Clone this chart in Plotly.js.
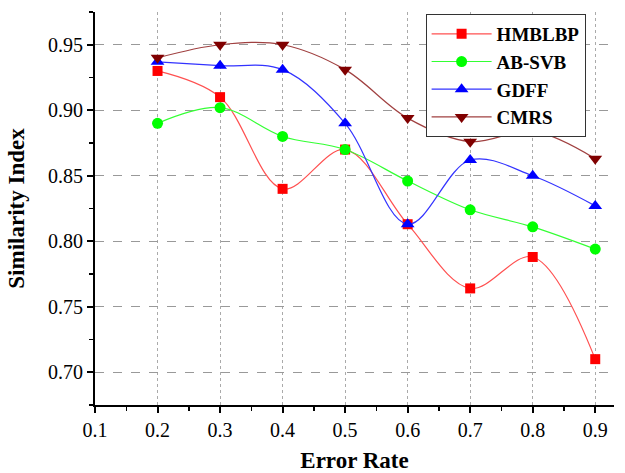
<!DOCTYPE html>
<html><head><meta charset="utf-8">
<script src="https://cdn.plot.ly/plotly-3.0.1.min.js"></script>
<style>body{margin:0;background:#fff}#c{width:625px;height:473px}</style>
</head><body><div id="c"></div>
<script>
const errorRate = [0.2, 0.3, 0.4, 0.5, 0.6, 0.7, 0.8, 0.9];
const hmblbp = [0.930, 0.910, 0.840, 0.870, 0.813, 0.764, 0.788, 0.710];
const abSvb  = [0.890, 0.902, 0.880, 0.870, 0.846, 0.824, 0.811, 0.794];
const gdff   = [0.937, 0.934, 0.931, 0.890, 0.813, 0.862, 0.850, 0.827];
const cmrs   = [0.940, 0.950, 0.950, 0.931, 0.894, 0.876, 0.884, 0.863];
const seriesNames = ['HMBLBP', 'AB-SVB', 'GDFF', 'CMRS'];
const xTickVals = [0.1, 0.2, 0.3, 0.4, 0.5, 0.6, 0.7, 0.8, 0.9];
const xTickText = ['0.1','0.2','0.3','0.4','0.5','0.6','0.7','0.8','0.9'];
const yTickVals = [0.70, 0.75, 0.80, 0.85, 0.90, 0.95];
const yTickText = ['0.70','0.75','0.80','0.85','0.90','0.95'];

const mk = (name, y, lineColor, mColor, symbol, size) => ({
  x: errorRate, y: y, name: name, type: 'scatter', mode: 'lines+markers',
  line: {color: lineColor, width: 1.2, shape: 'spline', smoothing: 1},
  marker: {color: mColor, symbol: symbol, size: size, line: {width: 0}}
});
const data = [
  mk(seriesNames[0], hmblbp, '#ff5050', '#ff0000', 'square', 10),
  mk(seriesNames[1], abSvb, '#33ff33', '#00ff00', 'circle', 11),
  mk(seriesNames[2], gdff, '#3333ff', '#0000ff', 'triangle-up', 12),
  mk(seriesNames[3], cmrs, '#a04040', '#800000', 'triangle-down', 12)
];
const font = 'Liberation Serif';
const tickFont = {family: font, size: 20, color: '#000'};
const layout = {
  width: 625, height: 473,
  margin: {l: 95, r: 11, t: 12, b: 68},
  paper_bgcolor: '#fff', plot_bgcolor: '#fff',
  font: {family: font, color: '#000', size: 20},
  showlegend: true,
  legend: {x: 0.637, y: 0.995, xanchor: 'left', yanchor: 'top',
    bordercolor: '#333', borderwidth: 1, bgcolor: '#fff',
    font: {family: font, size: 19, color: '#000', weight: 'bold'},
    itemwidth: 60, tracegroupgap: 0},
  xaxis: {
    range: [0.1, 0.93], tickvals: xTickVals, ticktext: xTickText,
    tickfont: tickFont,
    showline: true, linecolor: '#000', linewidth: 2,
    ticks: 'outside', ticklen: 6, tickwidth: 2, tickcolor: '#000',
    minor: {dtick: 0.05, tick0: 0.1, ticks: 'outside', ticklen: 4, tickwidth: 1.5, tickcolor: '#000', showgrid: false},
    showgrid: true, gridcolor: '#aaa', griddash: 'dot', gridwidth: 1,
    zeroline: false,
    title: {text: '<b>Error Rate</b>', font: {family: font, size: 23}, standoff: 16}
  },
  yaxis: {
    range: [0.675, 0.975], tickvals: yTickVals, ticktext: yTickText,
    tickfont: tickFont,
    showline: true, linecolor: '#000', linewidth: 2,
    ticks: 'outside', ticklen: 6, tickwidth: 2, tickcolor: '#000',
    minor: {dtick: 0.025, tick0: 0.7, ticks: 'outside', ticklen: 4, tickwidth: 1.5, tickcolor: '#000', showgrid: false},
    showgrid: true, gridcolor: '#999', griddash: 'dash', gridwidth: 1,
    zeroline: false,
    title: {text: '<b>Similarity Index</b>', font: {family: font, size: 23}, standoff: 17}
  }
};
Plotly.newPlot('c', data, layout, {displayModeBar: false, staticPlot: true});
</script></body></html>
